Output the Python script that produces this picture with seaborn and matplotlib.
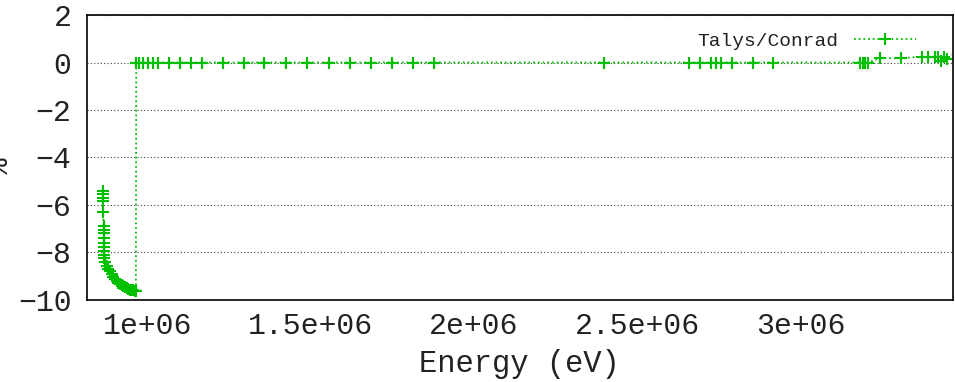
import matplotlib
matplotlib.use("Agg")
import matplotlib.pyplot as plt
import seaborn as sns
import pandas as pd

# Talys/Conrad relative difference (%) versus incident energy (eV)
energy_ev = [
    864000, 864000, 864500, 864500, 865000, 866000, 866000, 866500, 867000,
    867000, 867500, 868000, 868000, 868500, 872000, 876000, 881000, 886000,
    891000, 896000, 901000, 906000, 911000, 916000, 921000, 926000, 931000,
    937000, 942000, 947000, 952000, 957000, 962000, 965000,
    966000, 976000, 988000, 1002000, 1017000, 1033000, 1066000, 1100000,
    1134000, 1166000, 1232000, 1296000, 1357000, 1425000, 1489000, 1556000,
    1620000, 1685000, 1749000, 1813000, 1878000, 2398000, 2658000, 2692000,
    2725000, 2741000, 2756000, 2790000, 2854000, 2915000, 3182000, 3191000,
    3197000, 3206000, 3243000, 3307000, 3371000, 3390000, 3411000, 3420000,
    3429000, 3439000, 3448000,
]
diff_pct = [
    -5.40, -5.55, -5.70, -5.85, -6.30, -6.90, -7.05, -7.20, -7.40,
    -7.60, -7.75, -7.95, -8.10, -8.25, -8.40, -8.55, -8.68, -8.80,
    -8.92, -9.03, -9.12, -9.20, -9.27, -9.33, -9.38, -9.43, -9.47,
    -9.50, -9.53, -9.56, -9.58, -9.60, -9.62, -9.64,
    0.0, 0.0, 0.0, 0.0, 0.0, 0.0, 0.0, 0.0,
    0.0, 0.0, 0.0, 0.0, 0.0, 0.0, 0.0, 0.0,
    0.0, 0.0, 0.0, 0.0, 0.0, 0.0, 0.0, 0.0,
    0.0, 0.0, 0.0, 0.0, 0.0, 0.0, 0.0, 0.0,
    0.0, 0.0, 0.18, 0.18, 0.24, 0.22, 0.24, 0.22,
    0.05, 0.22, 0.15,
]
series_label = "Talys/Conrad"

x_ticks = [1e6, 1.5e6, 2e6, 2.5e6, 3e6]
x_tick_labels = ["1e+06", "1.5e+06", "2e+06", "2.5e+06", "3e+06"]
y_ticks = [2, 0, -2, -4, -6, -8, -10]

df = pd.DataFrame({"Energy": energy_ev, "Diff": diff_pct,
                   "series": series_label})

sns.set_theme(style="white")
plt.rcParams["font.family"] = ["Liberation Mono", "DejaVu Sans"]
plt.rcParams["axes.unicode_minus"] = True

fig = plt.figure(figsize=(9.55, 3.82), dpi=100)
ax = fig.add_axes([0.0908, 0.2147, 0.9067, 0.7460])

green = "#00c000"
sns.lineplot(data=df, x="Energy", y="Diff", hue="series", palette=[green],
             sort=False, estimator=None, marker="+", markersize=9,
             markeredgewidth=1.5, markeredgecolor=green,
             linestyle=(0, (1, 1.6)), linewidth=1.3, ax=ax)

ax.set_xlim(0.8145e6, 3.465e6)
ax.set_ylim(-10, 2)
ax.set_xticks(x_ticks)
ax.set_xticklabels(x_tick_labels)
ax.set_yticks(y_ticks)
ax.set_yticklabels([str(v).replace("-", "\u2212") for v in y_ticks])

ax.yaxis.grid(True, color="#444444", linestyle=(0, (1, 2)), linewidth=0.8)
ax.xaxis.grid(False)
ax.set_axisbelow(True)

for side in ["left", "right", "top", "bottom"]:
    ax.spines[side].set_visible(True)
    ax.spines[side].set_color("black")
    ax.spines[side].set_linewidth(1.2)

ax.tick_params(axis="both", direction="in", length=7, width=1,
               color="black", labelsize=21.5, labelcolor="#222222")
ax.tick_params(axis="y", pad=11)
ax.tick_params(axis="x", pad=9)

ax.set_xlabel("Energy (eV)", fontsize=22, color="#222222", labelpad=6)
ax.set_ylabel("")
fig.text(0.0, 0.565, "%", rotation=90, ha="center", va="center",
         fontsize=21, color="#222222")

leg = ax.legend(loc="upper right", frameon=False, fontsize=14,
                markerfirst=False, handlelength=3.2,
                bbox_to_anchor=(0.978, 1.0))
for txt in leg.get_texts():
    txt.set_color("#222222")

fig.savefig("out.png", dpi=100)
